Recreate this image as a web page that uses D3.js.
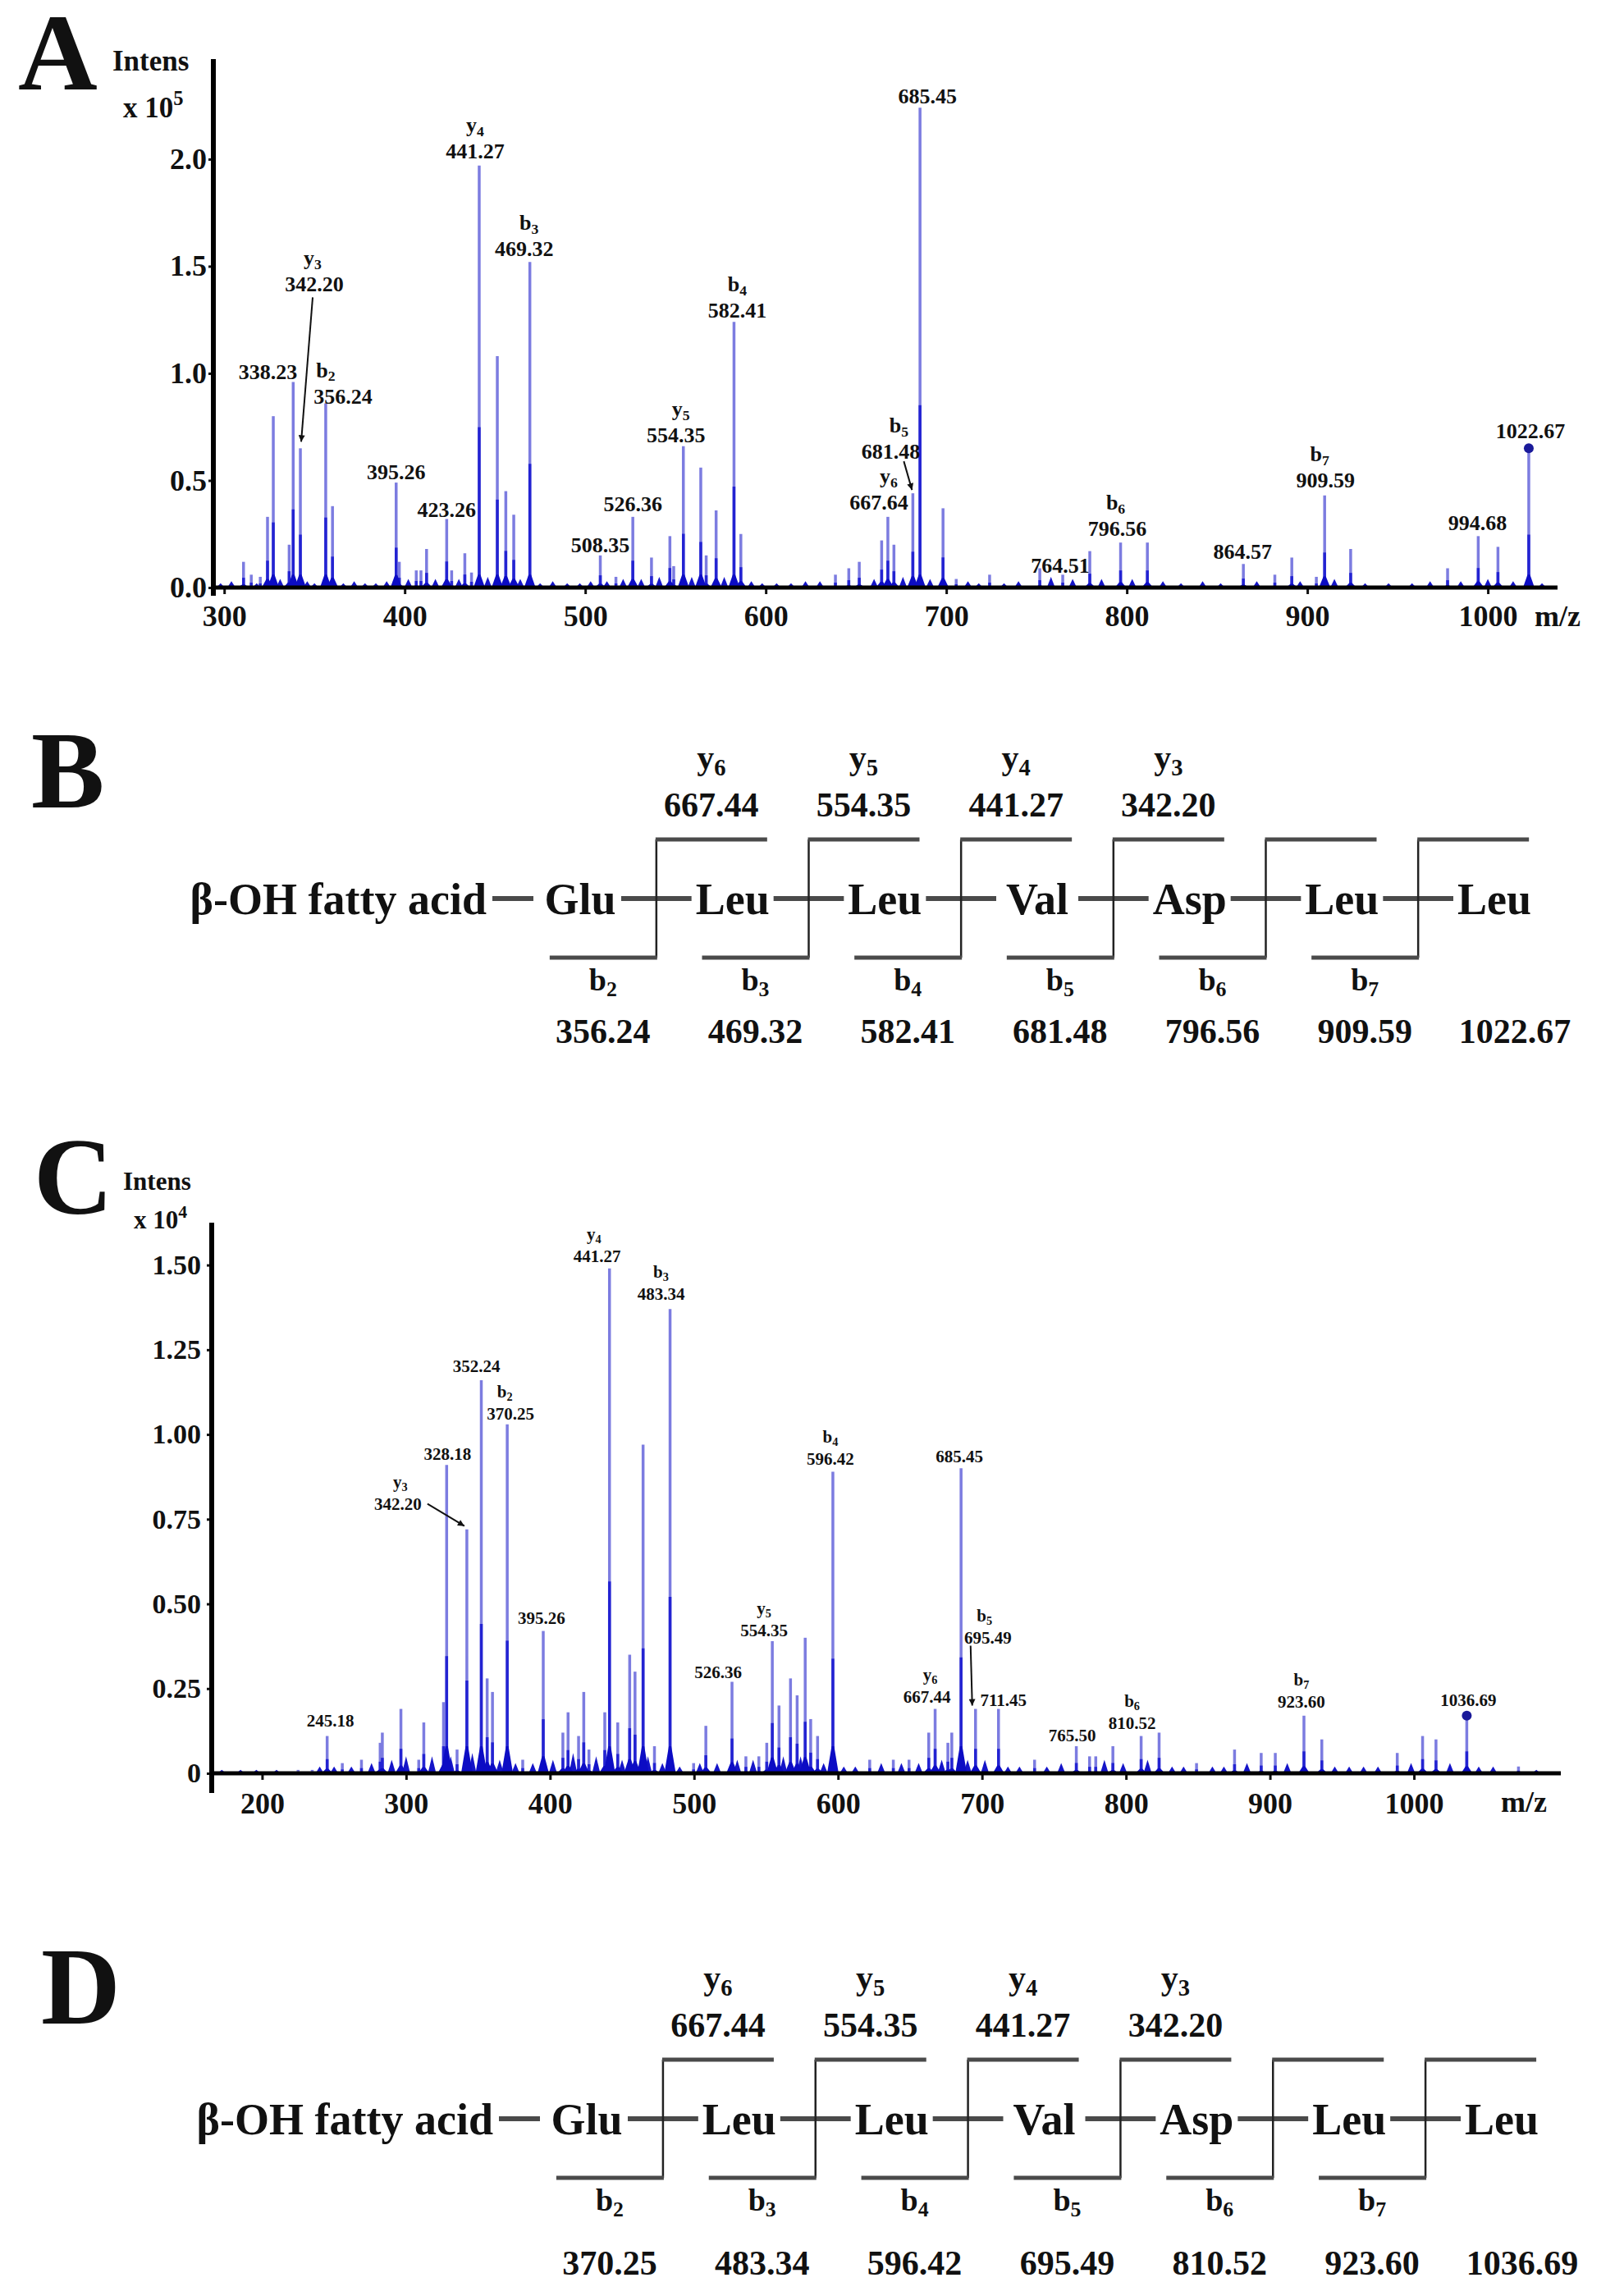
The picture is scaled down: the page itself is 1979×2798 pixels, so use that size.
<!DOCTYPE html>
<html lang="en">
<head>
<meta charset="UTF-8">
<title>MS/MS spectra</title>
<script src="https://cdn.jsdelivr.net/npm/d3@7/dist/d3.min.js"></script>
<style>
body{margin:0;background:#fff}
svg text{font-family:"Liberation Serif","Times New Roman",serif;font-weight:bold;fill:#111}
</style>
</head>
<body>
<svg id="fig" width="1979" height="2798"></svg>
<script>
// ---- data: panel A (intensity x 10^5) ----
peaksA = [[310.7,0.12],[315,0.06],[320,0.05],[324,0.33],[327.2,0.80],[336,0.2],[338.23,0.96],[342.20,0.65],
 [356.24,0.86],[360,0.38],[395.26,0.49],[397,0.12],[406.4,0.08],[409,0.08],[412.1,0.18],[423.26,0.32],[426,0.08],
 [433.3,0.16],[437,0.07],[441.27,1.97],[451.3,1.08],[456,0.45],[460.4,0.34],[469.32,1.52],[508.35,0.15],[517,0.05],
 [526.36,0.33],[536.7,0.14],[546.9,0.24],[549,0.1],[554.35,0.66],[564,0.56],[567,0.15],[572.5,0.36],[582.41,1.24],
 [586.2,0.25],[638.6,0.06],[646,0.09],[651.8,0.12],[664.2,0.22],[667.64,0.33],[671,0.2],[681.48,0.44],[685.45,2.24],
 [698.2,0.37],[705.5,0.04],[724,0.06],[751.8,0.09],[764.51,0.06],[779.5,0.17],[796.56,0.21],[811.4,0.21],
 [864.57,0.11],[882,0.06],[891.4,0.14],[905,0.05],[909.59,0.43],[924,0.18],[977.7,0.09],[994.68,0.24],
 [1005.6,0.19],[1022.67,0.65]]
noiseA = [[298,0.02],[304,0.03],[318,0.02],[331,0.04],[346,0.03],[350,0.02],[366,0.02],[372,0.03],[378,0.02],
 [384,0.02],[390,0.03],[402,0.04],[417,0.04],[430,0.04],[446,0.05],[464,0.04],[475,0.02],[482,0.03],[490,0.02],
 [497,0.02],[503,0.03],[512,0.03],[521,0.04],[531,0.04],[541,0.05],[559,0.05],[577,0.05],[592,0.03],[598,0.02],
 [606,0.02],[614,0.02],[622,0.03],[630,0.03],[660,0.04],[676,0.05],[691,0.04],[712,0.03],[718,0.02],[732,0.02],
 [740,0.03],[758,0.05],[770,0.04],[786,0.04],[803,0.04],[820,0.03],[830,0.02],[842,0.03],[852,0.02],[872,0.03],
 [896,0.03],[915,0.04],[932,0.02],[945,0.02],[958,0.02],[968,0.03],[985,0.03],[1000,0.04],[1014,0.03],[1030,0.02]]
annA = [[338.23,''],[342.20,'y3'],[356.24,'b2'],[395.26,''],[423.26,''],[441.27,'y4'],[469.32,'b3'],[508.35,''],
 [526.36,''],[554.35,'y5'],[582.41,'b4'],[667.64,'y6'],[681.48,'b5'],[685.45,''],[764.51,''],[796.56,'b6'],
 [864.57,''],[909.59,'b7'],[994.68,''],[1022.67,'']]
ticksXA = [300,400,500,600,700,800,900,1000]
ticksYA = [0,0.5,1.0,1.5,2.0]

// ---- data: panel C (intensity x 10^4) ----
peaksC = [[225,0.01],[234.8,0.01],[245.18,0.11],[255.7,0.03],[269,0.04],[282,0.09],[283.5,0.12],[296.4,0.19],
 [308.8,0.04],[312.3,0.15],[326,0.21],[328.18,0.91],[335.4,0.07],[342.20,0.72],[352.24,1.16],[356.3,0.28],[360,0.24],
 [370.25,1.03],[381,0.04],[395.26,0.42],[408.9,0.12],[412.5,0.18],[419.8,0.11],[423.4,0.24],[427,0.07],[438,0.18],
 [441.27,1.49],[447,0.15],[455.3,0.35],[459,0.30],[464.6,0.97],[472.5,0.08],[483.34,1.37],[499.7,0.03],[508.2,0.14],
 [526.36,0.27],[536,0.05],[545,0.05],[550.5,0.09],[554.35,0.39],[559,0.20],[567,0.28],[571.6,0.23],[577.2,0.40],
 [581,0.16],[585.8,0.11],[596.42,0.89],[622,0.04],[638.4,0.04],[649.3,0.04],[663,0.12],[667.44,0.19],[676.3,0.09],
 [679,0.12],[685.45,0.90],[695.49,0.19],[711.45,0.19],[736.5,0.04],[765.50,0.08],[774.7,0.05],[779,0.05],
 [790.9,0.08],[810.52,0.11],[823,0.12],[849,0.03],[875.4,0.07],[893.9,0.06],[903.7,0.06],[923.60,0.17],[936,0.10],
 [988.4,0.06],[1006,0.11],[1015.3,0.10],[1036.69,0.17],[1072.6,0.02]]
noiseC = [[172,0.01],[185,0.01],[196,0.01],[210,0.01],[240,0.02],[250,0.02],[262,0.02],[276,0.03],[290,0.04],
 [300,0.05],[318,0.05],[331,0.05],[346,0.06],[365,0.04],[376,0.03],[388,0.03],[402,0.04],[416,0.06],[432,0.05],
 [450,0.04],[468,0.05],[478,0.03],[490,0.02],[504,0.03],[516,0.03],[530,0.04],[541,0.04],[562,0.05],[574,0.05],
 [590,0.03],[604,0.02],[612,0.02],[630,0.03],[644,0.03],[656,0.03],[672,0.04],[690,0.04],[702,0.04],[718,0.02],
 [726,0.02],[745,0.02],[755,0.03],[785,0.04],[798,0.03],[815,0.04],[832,0.02],[840,0.02],[860,0.02],[868,0.02],
 [884,0.03],[912,0.03],[945,0.02],[955,0.02],[965,0.02],[975,0.02],[998,0.03],[1025,0.03],[1045,0.02],
 [1055,0.02],[1085,0.01]]
annC = [[245.18,''],[328.18,''],[342.20,'y3'],[352.24,''],[370.25,'b2'],[395.26,''],[441.27,'y4'],[483.34,'b3'],
 [526.36,''],[554.35,'y5'],[596.42,'b4'],[667.44,'y6'],[685.45,''],[695.49,'b5'],[711.45,''],[765.50,''],
 [810.52,'b6'],[923.60,'b7'],[1036.69,'']]
ticksXC = [200,300,400,500,600,700,800,900,1000]
ticksYC = [0,0.25,0.50,0.75,1.00,1.25,1.50]

// ---- data: fragmentation schemes B and D ----
residues = ['Glu','Leu','Leu','Val','Asp','Leu','Leu']
yIons = ['y6','y5','y4','y3']
yMassB = ['667.44','554.35','441.27','342.20']
bIons = ['b2','b3','b4','b5','b6','b7']
bMassB = ['356.24','469.32','582.41','681.48','796.56','909.59','1022.67']
yMassD = ['667.44','554.35','441.27','342.20']
bMassD = ['370.25','483.34','596.42','695.49','810.52','923.60','1036.69']

// ---- layout for the peak labels: [dx, dy, anchor, ion dx] from the peak top ----
layA = [[5,-3,'end',0],[17,-191,'middle',-2],[21,0,'middle',-21],[0,-4],[0,-2],[-5,-9],[-7,-7,'middle',6],[0,-4],
 [0,-7],[-9,-5,'middle',6],[4,-5],[-11,-9,'middle',12],[-27,-42,'middle',10],[9,-5],[-3,-2],[-4,-8,'middle',-2],
 [-1,-6],[1,-10,'middle',-7],[-1,-7],[2,-12]]
layC = [[4,-12],[1,-6],[-84,-24,'middle',3],[-6,-10],[4,-6,'middle',-7],[-2,-9],[-15,-8,'middle',-4],[-11,-11],
 [-17,-5],[-10,-6],[-3,-8],[-10,-8,'middle',4],[-2,-7],[15,-80,'middle',-4],[6,-4],[-5,-6],[-11,-9],[-3,-10],[2,-12]]

svg = d3.select('#fig')

svg.append('defs').append('marker')
    .attr('id','arrow')
    .attr('viewBox','0 0 10 10')
    .attr('refX',10).attr('refY',5)
    .attr('markerWidth',14).attr('markerHeight',8)
    .attr('markerUnits','userSpaceOnUse')
    .attr('orient','auto')
  .append('path')
    .attr('d','M0,0L10,5L0,10z')
    .attr('fill','#111')

function ionLabel(sel, ion) {
    sel.append('tspan').text(ion[0])
    sel.append('tspan').attr('font-size','68%').attr('dy','0.28em').text(ion.slice(1))
}

function spectrum(c) {
    const g = svg.append('g')
    const x = c.x
    const y = c.y
    const y0 = y(0)

    // noise along the baseline
    g.selectAll('path.noise').data(c.noise).join('path')
        .attr('d', d => 'M' + (x(d[0]) - 5) + ',' + y0 + 'L' + x(d[0]) + ',' + y(d[1]) + 'L' + (x(d[0]) + 5) + ',' + y0 + 'Z')
        .attr('fill', '#1414c8')

    // peak sticks: pale tip, dark lower part, dark foot
    g.selectAll('line.tip').data(c.peaks).join('line')
        .attr('x1', d => x(d[0])).attr('x2', d => x(d[0]))
        .attr('y1', y0).attr('y2', d => y(d[1]))
        .attr('stroke', '#7c7ce0').attr('stroke-width', 3.5)
    g.selectAll('line.mid').data(c.peaks).join('line')
        .attr('x1', d => x(d[0])).attr('x2', d => x(d[0]))
        .attr('y1', y0).attr('y2', d => y(d[1] * 0.38))
        .attr('stroke', '#2323d2').attr('stroke-width', 3.5)
    g.selectAll('path.foot').data(c.peaks).join('path')
        .attr('d', d => {
            const h = y(Math.min(d[1] * 0.12, c.footMax))
            return 'M' + (x(d[0]) - 7) + ',' + y0 + 'L' + (x(d[0]) - 1.5) + ',' + h + 'L' + (x(d[0]) + 1.5) + ',' + h + 'L' + (x(d[0]) + 7) + ',' + y0 + 'Z'
        })
        .attr('fill', '#0c0cc4')

    // axes
    const xAxis = g.append('g')
        .attr('transform', 'translate(0,' + y0 + ')')
        .call(d3.axisBottom(x).tickValues(c.ticksX).tickFormat(d3.format('d')).tickSize(8).tickSizeOuter(0).tickPadding(c.xPad))
    const yAxis = g.append('g')
        .attr('transform', 'translate(' + x.range()[0] + ',0)')
        .call(d3.axisLeft(y).tickValues(c.ticksY).tickFormat(c.fmt).tickSize(6).tickPadding(c.yPad))
    g.selectAll('.domain').remove()
    g.selectAll('.tick line').attr('stroke', '#111').attr('stroke-width', 3)
    xAxis.selectAll('text').attr('font-size', 36).attr('fill', '#111').attr('font-family', null)
    yAxis.selectAll('text').attr('font-size', c.yFont).attr('fill', '#111').attr('font-family', null)

    g.append('line')
        .attr('x1', x.range()[0]).attr('x2', x.range()[1])
        .attr('y1', y0).attr('y2', y0)
        .attr('stroke', '#000').attr('stroke-width', 5)
    g.append('line')
        .attr('x1', x.range()[0]).attr('x2', x.range()[0])
        .attr('y1', y.range()[1]).attr('y2', y0 + c.yExt)
        .attr('stroke', '#000').attr('stroke-width', 6)

    g.append('text').attr('x', c.mzX).attr('y', y0 + c.mzDy).attr('font-size', 36).attr('text-anchor', 'middle').text('m/z')

    // axis title
    g.append('text').attr('x', c.titleX).attr('y', c.titleY).attr('font-size', c.titleFont).text('Intens')
    const t = g.append('text').attr('x', c.titleX + 13).attr('y', c.titleY + c.titleGap).attr('font-size', c.titleFont)
    t.append('tspan').text('x 10')
    t.append('tspan').attr('font-size', '70%').attr('dy', '-0.6em').text(c.exp)

    // panel letter
    svg.append('text').attr('x', c.letterX).attr('y', c.letterY).attr('font-size', 134).text(c.letter)

    // peak labels
    c.ann.forEach((a, i) => {
        const l = c.lay[i]
        const h = c.peaks.find(p => p[0] === a[0])[1]
        const tx = x(a[0]) + l[0]
        const ty = y(h) + l[1]
        g.append('text').attr('x', tx).attr('y', ty)
            .attr('font-size', c.annFont).attr('text-anchor', l[2] || 'middle')
            .text(a[0].toFixed(2))
        if (a[1]) {
            ionLabel(g.append('text').attr('x', tx + (l[3] || 0)).attr('y', ty - c.ionGap)
                .attr('font-size', c.annFont).attr('text-anchor', 'middle'), a[1])
        }
    })

    // arrows and end marker
    c.arrows.forEach(ar => {
        const h = c.peaks.find(p => p[0] === ar[0])[1]
        const px = x(ar[0])
        const py = y(h)
        g.append('line')
            .attr('x1', px + ar[1]).attr('y1', py + ar[2])
            .attr('x2', px + ar[3]).attr('y2', py + ar[4])
            .attr('stroke', '#111').attr('stroke-width', 2)
            .attr('marker-end', 'url(#arrow)')
    })
    g.append('circle')
        .attr('cx', x(c.dot)).attr('cy', y(c.peaks.find(p => p[0] === c.dot)[1]))
        .attr('r', 6).attr('fill', '#1a1a9a')
}

spectrum({
    x: d3.scaleLinear().domain([294, 1038.6]).range([260, 1898]),
    y: d3.scaleLinear().domain([0, 2.467]).range([716, 72]),
    peaks: peaksA, noise: noiseA, ann: annA, lay: layA,
    ticksX: ticksXA, ticksY: ticksYA, fmt: d3.format('.1f'),
    xPad: 13, yPad: 2, yFont: 36, yExt: 10, footMax: 0.06,
    mzX: 1898, mzDy: 47,
    titleX: 137, titleY: 86, titleGap: 57, titleFont: 35, exp: '5',
    letter: 'A', letterX: 22, letterY: 109,
    annFont: 26, ionGap: 32,
    arrows: [[342.20, 15, -184, 1, -8], [681.48, -11, -39, -1, -4]],
    dot: 1022.67
})

spectrum({
    x: d3.scaleLinear().domain([165, 1102]).range([258, 1902]),
    y: d3.scaleLinear().domain([0, 1.625]).range([2161, 1490]),
    peaks: peaksC, noise: noiseC, ann: annC, lay: layC,
    ticksX: ticksXC, ticksY: ticksYC, fmt: d => d === 0 ? '0' : d3.format('.2f')(d),
    xPad: 15, yPad: 7, yFont: 34, yExt: 24, footMax: 0.08,
    mzX: 1857, mzDy: 47,
    titleX: 150, titleY: 1450, titleGap: 47, titleFont: 31, exp: '4',
    letter: 'C', letterX: 41, letterY: 1479,
    annFont: 21, ionGap: 27,
    arrows: [[342.20, -48, -31, -3, -4], [695.49, -6, -77, -4, -4]],
    dot: 1036.69
})

// ---- fragmentation scheme ----
function scheme(c) {
    const g = svg.append('g')
    const pos = d3.scalePoint().domain(d3.range(residues.length)).range(c.range)
    const cuts = d3.range(residues.length - 1).map(i => (pos(i) + pos(i + 1)) / 2)
    const y1 = c.top
    const y2 = y1 + 144
    const lineCol = '#4a4a4a'

    svg.append('text').attr('x', c.letterX).attr('y', c.letterY).attr('font-size', 134).text(c.letter)

    g.append('text').attr('x', pos(0) - 114).attr('y', y1 + 91)
        .attr('font-size', 54).attr('text-anchor', 'end').text('β-OH fatty acid')
    g.append('line').attr('x1', pos(0) - 107).attr('x2', pos(0) - 57)
        .attr('y1', y1 + 72).attr('y2', y1 + 72)
        .attr('stroke', lineCol).attr('stroke-width', 6)

    g.selectAll('text.res').data(residues).join('text')
        .attr('x', (d, i) => pos(i)).attr('y', y1 + 91)
        .attr('font-size', 54).attr('text-anchor', 'middle').text(d => d)
    g.selectAll('line.bond').data(d3.range(residues.length - 1)).join('line')
        .attr('x1', i => pos(i) + 50).attr('x2', i => pos(i + 1) - 50)
        .attr('y1', y1 + 72).attr('y2', y1 + 72)
        .attr('stroke', lineCol).attr('stroke-width', 6)

    g.selectAll('line.cut').data(cuts).join('line')
        .attr('x1', d => d).attr('x2', d => d).attr('y1', y1).attr('y2', y2)
        .attr('stroke', '#222').attr('stroke-width', 2.5)
    g.selectAll('line.ytop').data(cuts).join('line')
        .attr('x1', d => d - 1).attr('x2', d => d + 135).attr('y1', y1).attr('y2', y1)
        .attr('stroke', lineCol).attr('stroke-width', 5)
    g.selectAll('line.bbot').data(cuts).join('line')
        .attr('x1', d => d - 130).attr('x2', d => d + 1).attr('y1', y2).attr('y2', y2)
        .attr('stroke', lineCol).attr('stroke-width', 5)

    yIons.forEach((n, i) => {
        ionLabel(g.append('text').attr('x', cuts[i] + 67).attr('y', y1 - 86)
            .attr('font-size', 42).attr('text-anchor', 'middle'), n)
        g.append('text').attr('x', cuts[i] + 67).attr('y', y1 - 28)
            .attr('font-size', 42).attr('text-anchor', 'middle').text(c.yMass[i])
    })
    bIons.forEach((n, i) => {
        ionLabel(g.append('text').attr('x', cuts[i] - 65).attr('y', y1 + 184)
            .attr('font-size', 38).attr('text-anchor', 'middle'), n)
    })
    c.bMass.forEach((m, i) => {
        g.append('text')
            .attr('x', i < cuts.length ? cuts[i] - 65 : pos(residues.length - 1) + 25)
            .attr('y', y1 + c.numOff)
            .attr('font-size', 42).attr('text-anchor', 'middle').text(m)
    })
}

scheme({range: [707, 1821], top: 1023, numOff: 248, yMass: yMassB, bMass: bMassB, letter: 'B', letterX: 38, letterY: 984})
scheme({range: [715, 1830], top: 2510, numOff: 262, yMass: yMassD, bMass: bMassD, letter: 'D', letterX: 50, letterY: 2466})
</script>
</body>
</html>
